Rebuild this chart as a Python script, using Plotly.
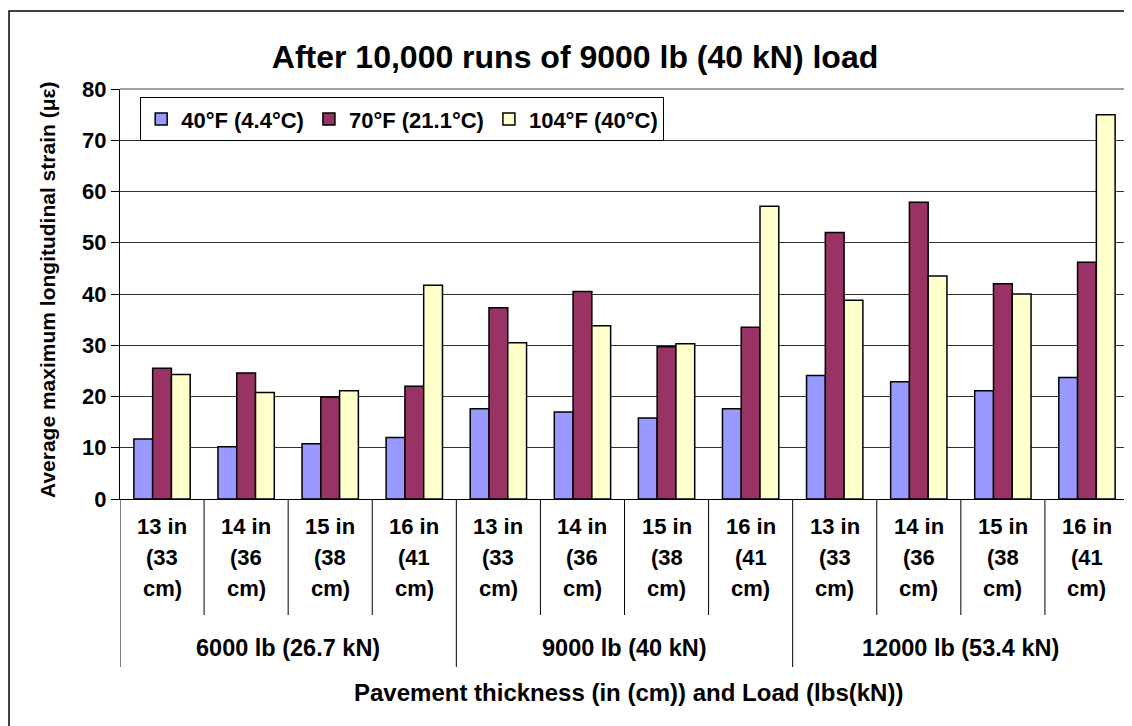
import plotly.graph_objects as go

loads = ["6000 lb (26.7 kN)", "9000 lb (40 kN)", "12000 lb (53.4 kN)"]
thick_in = [13, 14, 15, 16]
thick_cm = [33, 36, 38, 41]
series_names = ["40°F (4.4°C)", "70°F (21.1°C)", "104°F (40°C)"]
series_colors = ["#9999FF", "#993366", "#FFFFCC"]

strain_40F = [11.7, 10.2, 10.8, 12.0, 17.6, 17.0, 15.8, 17.6, 24.1, 22.9, 21.1, 23.7]
strain_70F = [25.5, 24.6, 19.9, 22.0, 37.3, 40.5, 29.7, 33.5, 52.0, 57.9, 42.0, 46.2]
strain_104F = [24.3, 20.8, 21.1, 41.7, 30.5, 33.8, 30.3, 57.1, 38.8, 43.5, 40.0, 75.0]

FONT = "Liberation Sans"
cats = [f"{L}|{t}" for L in loads for t in thick_in]

fig = go.Figure()
for name, col, vals in zip(series_names, series_colors, [strain_40F, strain_70F, strain_104F]):
    fig.add_trace(go.Bar(x=cats, y=vals, name=f"<b>{name}</b>",
                         marker=dict(color=col, line=dict(color="#000000", width=1.5))))

# plot area in page pixels: x 120..1129, y 89..499 (page has 8px body offset)
fig.update_layout(
    width=1132, height=726,
    margin=dict(l=112, r=11, t=81, b=235),
    paper_bgcolor="white", plot_bgcolor="white",
    barmode="group", bargap=0.33, bargroupgap=0,
    font=dict(family=FONT, color="black"),
    title=dict(text="<b>After 10,000 runs of 9000 lb (40 kN) load</b>", x=(575 - 8) / 1132, xanchor="center",
               y=1 - (57 - 8) / 726, yanchor="middle", yref="container", font=dict(size=32, family=FONT)),
    legend=dict(orientation="h", x=0.02, y=0.98, xanchor="left", yanchor="top",
                bordercolor="black", borderwidth=1, bgcolor="white",
                font=dict(size=22, family=FONT), itemwidth=30, traceorder="normal"),
    showlegend=True,
)
fig.update_xaxes(type="category", range=[-0.5, 11.5], showticklabels=False, ticks="",
                 showline=True, linecolor="black", linewidth=1, showgrid=False, zeroline=False)
fig.update_yaxes(range=[0, 80], dtick=10, tick0=0, ticks="outside", ticklen=8, tickcolor="black",
                 showline=True, linecolor="black", linewidth=1, showgrid=True, gridcolor="#333333",
                 gridwidth=1, zeroline=False, tickfont=dict(size=22, family=FONT),
                 tickprefix="<b>", ticksuffix="</b>")

# outer chart border
fig.add_shape(type="rect", xref="paper", yref="paper", x0=-0.110, x1=1.2, y0=-1.0, y1=1.19,
              line=dict(color="black", width=1.5), fillcolor="rgba(0,0,0,0)", layer="below")
# plot area top/right border
fig.add_shape(type="line", xref="paper", yref="paper", x0=0, x1=1, y0=1, y1=1, line=dict(color="#808080", width=1.5))
fig.add_shape(type="line", xref="paper", yref="paper", x0=0.999, x1=0.999, y0=1, y1=0, line=dict(color="#808080", width=1.5))

sub_bottom = (499 - 615) / 410
grp_bottom = (499 - 667) / 410
for k in range(13):
    xpos = k - 0.5
    bottom = grp_bottom if k % 4 == 0 else sub_bottom
    fig.add_shape(type="line", xref="x", yref="paper", x0=xpos, x1=xpos, y0=0, y1=bottom,
                  line=dict(color="black", width=1))

rows = [(499 - 526) / 410, (499 - 557) / 410, (499 - 588) / 410]
for i, c in enumerate(cats):
    ti = thick_in[i % 4]
    tc = thick_cm[i % 4]
    for txt, yy in zip([f"{ti} in", f"({tc}", "cm)"], rows):
        fig.add_annotation(x=i, y=yy, xref="x", yref="paper", text=f"<b>{txt}</b>", showarrow=False,
                           font=dict(size=22, family=FONT), xanchor="center", yanchor="middle")
for g, L in enumerate(loads):
    fig.add_annotation(x=g * 4 + 1.5, y=(499 - 648) / 410, xref="x", yref="paper", text=f"<b>{L}</b>",
                       showarrow=False, font=dict(size=23.5, family=FONT), xanchor="center", yanchor="middle")

fig.add_annotation(x=(628 - 120) / 1009, y=(499 - 692) / 410, xref="paper", yref="paper",
                   text="<b>Pavement thickness (in (cm)) and Load (lbs(kN))</b>", showarrow=False,
                   font=dict(size=24, family=FONT), xanchor="center", yanchor="middle")
fig.add_annotation(x=(47 - 120) / 1009, y=(499 - 290) / 410, xref="paper", yref="paper",
                   text="<b>Average maximum longitudinal strain (με)</b>", textangle=-90, showarrow=False,
                   font=dict(size=21, family=FONT), xanchor="center", yanchor="middle")

fig.write_html("out.html")
